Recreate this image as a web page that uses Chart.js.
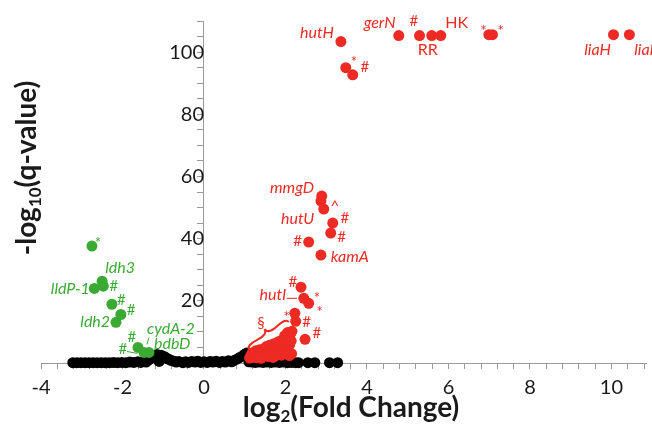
<!DOCTYPE html>
<html>
<head>
<meta charset="utf-8">
<script src="https://cdn.jsdelivr.net/npm/chart.js@4.4.0/dist/chart.umd.min.js"></script>
<style>
  html, body { margin: 0; padding: 0; background: #fff; }
  #wrap { width: 652px; height: 427px; position: relative; }
</style>
</head>
<body>
<div id="wrap"><canvas id="volcano"></canvas></div>
<script>
// points are [log2 fold change, -log10 q-value]
const upRegulated = [
  [3.36, 103.4], [4.78, 105.3], [5.29, 105.3], [5.59, 105.3], [5.81, 105.3],
  [3.48, 95.0], [3.65, 92.7], [6.99, 105.6], [7.08, 105.6], [10.05, 105.6], [10.44, 105.6],
  [2.89, 53.7], [2.87, 52.1], [2.94, 49.5], [3.16, 45.0], [3.11, 41.8], [2.57, 38.9], [2.87, 34.7],
  [2.38, 24.4], [2.45, 20.8], [2.57, 19.2], [2.23, 16.0], [2.25, 13.4], [2.48, 7.6],
  [1.12, 1.6], [1.15, 2.4], [1.18, 3.2], [1.2, 1.8], [1.24, 2.8], [1.27, 3.9], [1.3, 1.7],
  [1.33, 2.6], [1.36, 4.3], [1.38, 3.4], [1.42, 1.9], [1.45, 2.9], [1.47, 4.6], [1.5, 3.8],
  [1.53, 5.3], [1.55, 2.2], [1.58, 3.1], [1.6, 4.4], [1.62, 5.8], [1.65, 2.6], [1.67, 3.7],
  [1.7, 5.1], [1.72, 6.2], [1.75, 2.3], [1.77, 4.2], [1.8, 5.6], [1.82, 6.8], [1.85, 3.1],
  [1.87, 4.7], [1.9, 7.2], [1.92, 6.0], [1.95, 3.6], [1.97, 5.2], [2.0, 7.9], [2.02, 6.5],
  [2.05, 4.1], [2.07, 8.6], [2.1, 5.8], [2.12, 9.3], [2.14, 7.1], [2.16, 10.2], [2.05, 9.8],
  [1.98, 8.8], [2.15, 3.0], [1.6, 2.0], [1.9, 2.5], [2.1, 2.4], [1.4, 1.5], [1.7, 1.8]
];
const downRegulated = [
  [-2.75, 37.6], [-2.5, 26.3], [-2.47, 24.7], [-2.69, 24.0], [-2.26, 18.9],
  [-2.04, 15.6], [-2.16, 13.1], [-1.62, 5.0], [-1.47, 3.4], [-1.35, 3.4]
];
const unchanged = [
  [-3.22, 0.1], [-3.12, 0.1], [-3.02, 0.1], [-2.92, 0.1], [-2.82, 0.1], [-2.72, 0.1],
  [-2.62, 0.1], [-2.52, 0.1], [-2.42, 0.1], [-2.32, 0.1], [-2.22, 0.15], [-2.12, 0.1],
  [-2.02, 0.2], [-1.92, 0.1], [-1.82, 0.3], [-1.72, 0.2], [-1.62, 0.4], [-1.55, 0.2],
  [-1.48, 0.6], [-1.42, 0.3], [-1.35, 1.0], [-1.28, 1.8], [-1.22, 2.4], [-1.15, 2.7],
  [-1.1, 0.5], [-1.05, 2.5], [-0.98, 2.1], [-0.92, 1.6], [-0.86, 1.2], [-0.8, 0.8],
  [-0.74, 0.6], [-0.68, 0.3], [-0.62, 0.5], [-0.52, 0.1], [-0.45, 0.4], [-0.38, 0.2],
  [-0.3, 0.5], [-0.22, 0.3], [-0.15, 0.6], [-0.08, 0.2], [0, 0.4], [0.08, 0.2],
  [0.15, 0.5], [0.22, 0.3], [0.3, 0.6], [0.38, 0.2], [0.45, 0.5], [0.52, 0.3],
  [0.6, 0.7], [0.68, 0.4], [0.75, 0.9], [0.82, 1.3], [0.88, 1.8], [0.95, 2.3],
  [1.0, 2.8], [1.05, 3.2], [1.1, 0.4], [1.18, 0.3], [1.26, 0.2], [1.35, 0.3],
  [1.45, 0.2], [1.55, 0.3], [1.65, 0.2], [1.75, 0.3], [1.85, 0.2], [1.95, 0.3],
  [2.05, 0.1], [2.15, 0.2], [2.25, 0.1], [2.32, 0.1], [2.55, 0.1], [2.72, 0.1],
  [3.08, 0.1], [3.28, 0.1]
];

const xTickLabels = [-4, -2, 0, 2, 4, 6, 8, 10];
const yTickLabels = [20, 40, 60, 80, 100];

// gene names and marks, placed in data units
const upNames = [
  ['hutH', 2.77, 106.3], ['gerN', 4.31, 109.5], ['liaH', 9.66, 100.8], ['liaI', 10.8, 100.8],
  ['mmgD', 2.16, 56.3], ['hutU', 2.3, 46.3], ['kamA', 3.58, 34.0], ['hutI', 1.69, 21.8]
];
const upOther = [['HK', 6.2, 109.5], ['RR', 5.49, 100.8]];
const upMarks = [
  ['#', 5.15, 109.8], ['*', 3.68, 98.5], ['#', 3.95, 95.3], ['*', 6.86, 108.5], ['*', 7.28, 108.5],
  ['^', 3.21, 51.5], ['#', 3.46, 46.6], ['#', 3.38, 40.5], ['#', 2.3, 39.2], ['#', 2.18, 26.0],
  ['*', 2.77, 22.4], ['*', 2.84, 17.9], ['*', 2.03, 16.3], ['#', 2.52, 13.1], ['#', 2.77, 9.5],
  ['§', 1.4, 12.7]
];
const downNames = [
  ['ldh3', -2.06, 30.5], ['lldP-1', -3.28, 24.0], ['ldh2', -2.67, 13.1],
  ['cydA-2', -0.81, 11.1], ['bdbD', -0.78, 6.3]
];
const downMarks = [
  ['*', -2.6, 40.2], ['#', -2.21, 24.7], ['#', -2.03, 20.2], ['#', -1.79, 16.9],
  ['#', -1.77, 8.2], ['#', -1.99, 4.4]
];
const upLeaders = [[[2.03, 20.8], [2.28, 20.8]]];
const downLeaders = [[[-1.89, 3.7], [-1.64, 3.1]], [[-1.35, 8.2], [-1.4, 6.0]]];
const braceEnds = [[2.08, 13.2], [1.11, 4.4]];

const RED = '#ee2a24';
const GREEN = '#3aaa35';
const AXIS = '#9a9a9a';
const FONT = 'Lato';

function toXY(pairs) {
  return pairs.map(p => ({x: p[0], y: p[1]}));
}

function drawTexts(ctx, sx, sy, list, font, color) {
  ctx.font = font;
  ctx.fillStyle = color;
  ctx.textAlign = 'center';
  ctx.textBaseline = 'middle';
  list.forEach(([t, x, y]) => {
    let dy = 0;
    if (t === '*') dy = 5;
    if (t === '^') dy = 3;
    ctx.fillText(t, sx.getPixelForValue(x), sy.getPixelForValue(y) + dy);
  });
}

function drawLines(ctx, sx, sy, list, color) {
  ctx.strokeStyle = color;
  ctx.lineWidth = 1;
  list.forEach(([a, b]) => {
    ctx.beginPath();
    ctx.moveTo(sx.getPixelForValue(a[0]), sy.getPixelForValue(a[1]));
    ctx.lineTo(sx.getPixelForValue(b[0]), sy.getPixelForValue(b[1]));
    ctx.stroke();
  });
}

function drawBrace(ctx, x1, y1, x2, y2, w, q) {
  let dx = x1 - x2, dy = y1 - y2;
  const len = Math.hypot(dx, dy);
  dx /= len; dy /= len;
  const qx1 = x1 + q * w * dy, qy1 = y1 - q * w * dx;
  const qx2 = (x1 - 0.25 * len * dx) + (1 - q) * w * dy, qy2 = (y1 - 0.25 * len * dy) - (1 - q) * w * dx;
  const tx = (x1 - 0.5 * len * dx) + w * dy, ty = (y1 - 0.5 * len * dy) - w * dx;
  const qx3 = x2 + q * w * dy, qy3 = y2 - q * w * dx;
  const qx4 = (x1 - 0.75 * len * dx) + (1 - q) * w * dy, qy4 = (y1 - 0.75 * len * dy) - (1 - q) * w * dx;
  ctx.beginPath();
  ctx.moveTo(x1, y1);
  ctx.quadraticCurveTo(qx1, qy1, qx2, qy2);
  ctx.quadraticCurveTo(2 * qx2 - qx1, 2 * qy2 - qy1, tx, ty);
  ctx.moveTo(x2, y2);
  ctx.quadraticCurveTo(qx3, qy3, qx4, qy4);
  ctx.quadraticCurveTo(2 * qx4 - qx3, 2 * qy4 - qy3, tx, ty);
  ctx.stroke();
}

// title text with a subscript part, centred on (0,0)
function drawSubText(ctx, parts, size) {
  const subSize = Math.round(size * 0.62);
  let total = 0;
  parts.forEach(([t, sub]) => {
    ctx.font = 'bold ' + (sub ? subSize : size) + 'px ' + FONT;
    total += ctx.measureText(t).width;
  });
  let x = -total / 2;
  ctx.textAlign = 'left';
  ctx.textBaseline = 'middle';
  parts.forEach(([t, sub]) => {
    ctx.font = 'bold ' + (sub ? subSize : size) + 'px ' + FONT;
    ctx.fillText(t, x, sub ? size * 0.32 : 0);
    x += ctx.measureText(t).width;
  });
}

const annotations = {
  id: 'annotations',
  afterDatasetsDraw(chart) {
    const ctx = chart.ctx;
    const sx = chart.scales.x, sy = chart.scales.y;
    ctx.save();
    drawTexts(ctx, sx, sy, upNames, 'italic 16px ' + FONT, RED);
    drawTexts(ctx, sx, sy, upOther, '16px ' + FONT, RED);
    drawTexts(ctx, sx, sy, upMarks, '15px ' + FONT, RED);
    drawTexts(ctx, sx, sy, downNames, 'italic 16px ' + FONT, GREEN);
    drawTexts(ctx, sx, sy, downMarks, '15px ' + FONT, GREEN);
    drawLines(ctx, sx, sy, upLeaders, RED);
    drawLines(ctx, sx, sy, downLeaders, GREEN);
    ctx.strokeStyle = RED;
    ctx.lineWidth = 2;
    drawBrace(ctx,
      sx.getPixelForValue(braceEnds[0][0]), sy.getPixelForValue(braceEnds[0][1]),
      sx.getPixelForValue(braceEnds[1][0]), sy.getPixelForValue(braceEnds[1][1]), 8, 0.6);

    ctx.fillStyle = '#1a1a1a';
    ctx.save();
    ctx.translate(351, 408);
    drawSubText(ctx, [['log', false], ['2', true], ['(Fold Change)', false]], 28);
    ctx.restore();
    ctx.save();
    ctx.translate(27, 168);
    ctx.rotate(-Math.PI / 2);
    drawSubText(ctx, [['-log', false], ['10', true], ['(q-value)', false]], 28);
    ctx.restore();
    ctx.restore();
  }
};

function build() {
  new Chart(document.getElementById('volcano'), {
    type: 'scatter',
    data: {
      datasets: [
        {label: 'up', data: toXY(upRegulated), backgroundColor: RED, order: 0},
        {label: 'down', data: toXY(downRegulated), backgroundColor: GREEN, order: 1},
        {label: 'ns', data: toXY(unchanged), backgroundColor: '#000', order: 2}
      ]
    },
    options: {
      responsive: true,
      maintainAspectRatio: false,
      animation: false,
      datasets: {
        scatter: {pointRadius: 5.5, pointHoverRadius: 5.5, borderWidth: 0, clip: false}
      },
      layout: {padding: {left: 41, right: 0, top: 21, bottom: 20}},
      plugins: {legend: {display: false}, tooltip: {enabled: false}},
      scales: {
        x: {
          type: 'linear', position: 'bottom', min: -4, max: 10.86,
          border: {color: AXIS, width: 1},
          grid: {drawOnChartArea: false, drawTicks: true, tickLength: 6, color: AXIS},
          afterBuildTicks(scale) {
            const t = [];
            for (let i = 0; i <= 37; i++) t.push({value: Math.round((-4 + 0.4 * i) * 10) / 10});
            scale.ticks = t;
          },
          ticks: {
            autoSkip: false, maxRotation: 0, padding: 7, color: '#1a1a1a',
            font: {family: FONT, size: 20},
            callback: v => xTickLabels.includes(v) ? String(v) : ''
          }
        },
        y: {
          type: 'linear', position: {x: 0}, min: 0, max: 110,
          border: {color: AXIS, width: 1},
          grid: {drawOnChartArea: false, drawTicks: true, tickLength: 6, color: AXIS},
          ticks: {
            stepSize: 5, autoSkip: false, padding: 5, color: '#1a1a1a',
            font: {family: FONT, size: 20},
            callback: v => yTickLabels.includes(v) ? String(v) : ''
          }
        }
      }
    },
    plugins: [annotations]
  });
}

Promise.all([
  document.fonts.load('20px Lato'),
  document.fonts.load('bold 28px Lato'),
  document.fonts.load('italic 16px Lato')
]).then(build, build);
</script>
</body>
</html>
